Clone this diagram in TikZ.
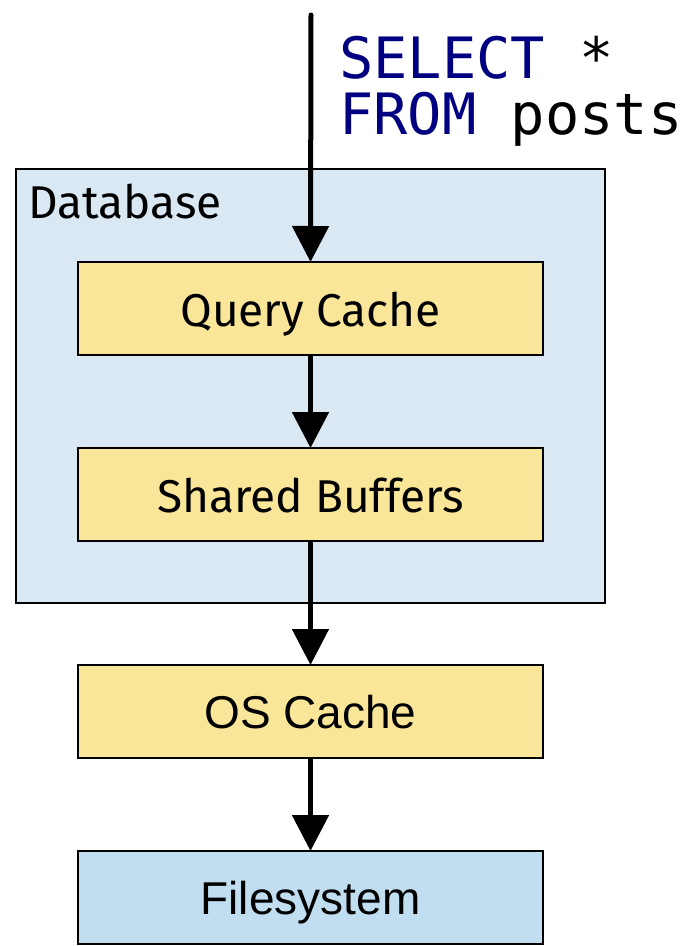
\documentclass[tikz,border=0pt]{standalone}
\usepackage{fontspec}
\setmainfont{Fira Sans}
\newfontfamily\arialfont{Liberation Sans}
\setmonofont{DejaVu Sans Mono}
\usetikzlibrary{arrows.meta}
\definecolor{dbfill}{HTML}{D9E8F2}
\definecolor{cachefill}{HTML}{F9E699}
\definecolor{fsfill}{HTML}{C0DEF0}
\definecolor{sqlkw}{HTML}{000080}
\begin{document}
\begin{tikzpicture}[x=1pt,y=-1pt,
  layer/.style={draw=black, line width=2.5pt, minimum width=465pt, minimum height=93pt,
    inner sep=0pt, outer sep=0pt},
  cachebox/.style={layer, fill=cachefill},
  fsbox/.style={layer, fill=fsfill},
  flow/.style={line width=5pt, -{Triangle[length=36pt,width=36pt]}},
  boxfont/.style={font=\fontsize{46}{50}\selectfont, text height=35pt, text depth=0pt},
  osfont/.style={font=\arialfont\fontsize{46}{50}\selectfont, text height=34pt, text depth=0pt},
  sqlfont/.style={font=\ttfamily\fontsize{57}{56}\selectfont},
]
\useasboundingbox (0,0) rectangle (687,946);

% database container
\node[draw=black, line width=2.2pt, fill=dbfill, minimum width=589pt, minimum height=434pt,
  inner sep=0pt, outer sep=0pt] (db) at (310.5,386) {};
\node[font=\fontsize{46}{50}\selectfont, anchor=base west, inner sep=0pt] (dblabel) at (28,218) {Database};

% cache layers
\node[cachebox, boxfont] (qc) at (310.5,308.5) {Query Cache};
\node[cachebox, boxfont] (sb) at (310.5,494.5) {Shared Buffers};
\node[cachebox, osfont] (osc) at (310.5,711.5) {OS Cache};
\node[fsbox, osfont] (fs) at (310.5,897.5) {Filesystem};

% incoming query
\coordinate (src) at (311,15);
\node[sqlfont, anchor=base west, inner sep=0pt] (sql1) at (339,78)
  {\textcolor{sqlkw}{SELECT} *};
\node[sqlfont, anchor=base west, inner sep=0pt] (sql2) at (339,134)
  {\textcolor{sqlkw}{FROM} posts};

% request path
\draw[flow, line cap=round] (src) -- (qc.north);
\draw[flow] (qc.south) -- (sb.north);
\draw[flow] (sb.south) -- (osc.north);
\draw[flow] (osc.south) -- (fs.north);
\end{tikzpicture}
\end{document}
